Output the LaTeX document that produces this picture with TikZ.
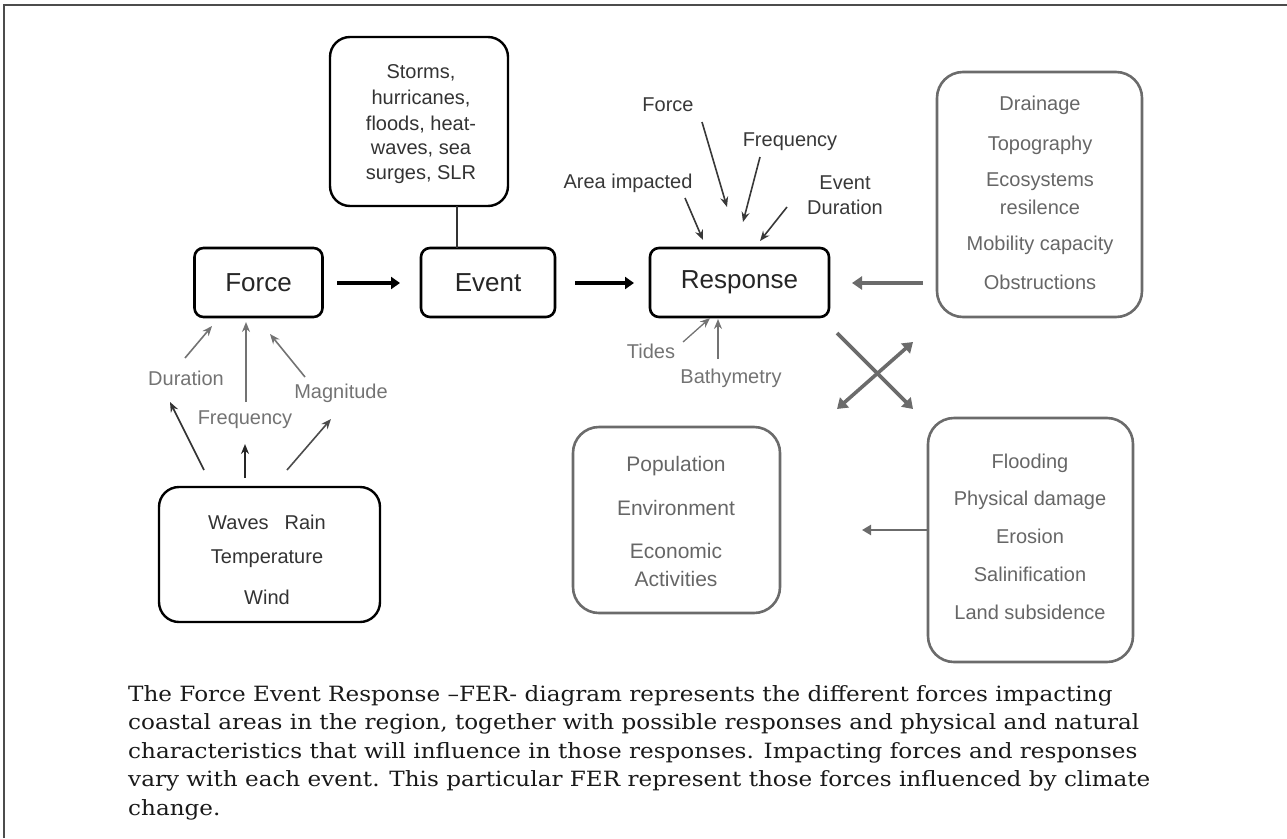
\documentclass[tikz,border=0pt]{standalone}
\usepackage{fontspec}
\setmainfont{Liberation Sans}
\newfontfamily\capfont[FakeStretch=1.1]{DejaVu Serif}
\usetikzlibrary{arrows.meta}
\definecolor{boxgrey}{gray}{0.42}
\definecolor{txtgrey}{gray}{0.40}
\definecolor{lblgrey}{gray}{0.45}
\definecolor{darklbl}{gray}{0.22}
\tikzset{
  mainbox/.style={draw=black, line width=2.6pt, rounded corners=9pt, inner sep=0pt, fill=white},
  bigbox/.style={draw=black, line width=2.4pt, rounded corners=20pt, inner sep=0pt},
  greybox/.style={draw=boxgrey, line width=2.6pt, rounded corners=26pt, inner sep=0pt},
  maintext/.style={font=\fontsize{26}{30}\selectfont, text=black!85},
  itemtxt/.style={font=\fontsize{20}{25}\selectfont, text=black!80, inner sep=0pt},
  greytxt/.style={font=\fontsize{20}{25}\selectfont, text=txtgrey, inner sep=0pt},
  lbl/.style={font=\fontsize{20}{25}\selectfont, text=darklbl, inner sep=0pt},
  glbl/.style={font=\fontsize{20}{25}\selectfont, text=lblgrey, inner sep=0pt},
  flow/.style={line width=4.5pt, -{Triangle[length=9pt,width=12pt]}},
  gflow/.style={line width=4pt, draw=boxgrey, -{Triangle[length=10pt,width=13pt]}},
  thin/.style={line width=1.6pt, -{Stealth[length=10pt,width=8pt]}},
  caption/.style={font=\capfont\fontsize{21}{28}\selectfont, text=black!90, anchor=base west, inner sep=0pt},
}
\begin{document}
\begin{tikzpicture}[x=1pt,y=-1pt]
\useasboundingbox (0,0) rectangle (1287,838);
% frame
\draw[line width=1.6pt, gray!60!black] (4,838) -- (4,5) -- (1287,5);

% main boxes
\node[mainbox, minimum width=128pt, minimum height=69pt] (force) at (258.5,282.5) {};
\node[maintext] (forcet) at (258.5,282.5) {Force};
\node[mainbox, minimum width=134pt, minimum height=69pt] (event) at (488,282.5) {};
\node[maintext] (eventt) at (488,282.5) {Event};
\node[mainbox, minimum width=179pt, minimum height=69pt] (resp) at (739.5,282.5) {};
\node[maintext] (respt) at (739.5,282.5) {Response};

% storms box
\node[bigbox, minimum width=178pt, minimum height=169pt] (storms) at (419,121.5) {};
\node[itemtxt] (s1) at (421,73) {Storms,};
\node[itemtxt] (s2) at (421,99) {hurricanes,};
\node[itemtxt] (s3) at (421,125) {floods, heat-};
\node[itemtxt] (s4) at (421,150) {waves, sea};
\node[itemtxt] (s5) at (421,175) {surges, SLR};
\coordinate (stb) at (457,206);
\coordinate (evt) at (457,248);
\draw[line width=2pt, black!80] (stb) -- (evt);

% waves box
\node[bigbox, minimum width=221pt, minimum height=135pt] (waves) at (269.5,554.5) {};
\node[itemtxt] (w1) at (267,522) {Waves\hspace{16pt}Rain};
\node[itemtxt] (w2) at (267,559) {Temperature};
\node[itemtxt] (w3) at (267,597) {Wind};

% force factor labels
\node[glbl] (dur) at (186,378) {Duration};
\node[glbl] (freq) at (245,420) {Frequency};
\node[glbl] (mag) at (341,393) {Magnitude};
\coordinate (d1) at (185,358); \coordinate (d2) at (212,326);
\coordinate (f1) at (246,402); \coordinate (f2) at (246,322);
\coordinate (m1) at (305,377); \coordinate (m2) at (270,334);
\draw[thin, draw=lblgrey] (d1) -- (d2);
\draw[thin, draw=lblgrey] (f1) -- (f2);
\draw[thin, draw=lblgrey] (m1) -- (m2);
\coordinate (wl1) at (204,470); \coordinate (wl2) at (170,402);
\coordinate (wm1) at (245,478); \coordinate (wm2) at (245,444);
\coordinate (wr1) at (287,470); \coordinate (wr2) at (331,419);
\draw[thin, draw=black!80] (wl1) -- (wl2);
\draw[thin, draw=black!85] (wm1) -- (wm2);
\draw[thin, draw=black!70] (wr1) -- (wr2);

% main flow arrows
\coordinate (fe1) at (337,283); \coordinate (fe2) at (400,283);
\coordinate (er1) at (575,283); \coordinate (er2) at (634,283);
\draw[flow] (fe1) -- (fe2);
\draw[flow] (er1) -- (er2);

% response factor labels
\node[lbl] (rforce) at (668,105) {Force};
\node[lbl] (rfreq) at (790,142) {Frequency};
\node[lbl] (rarea) at (628,183) {Area impacted};
\node[lbl, align=center, font=\fontsize{20}{25}\selectfont] (rdur) at (845,195) {Event\\Duration};
\coordinate (ra1) at (702,122); \coordinate (ra2) at (727,207);
\coordinate (rb1) at (760,157); \coordinate (rb2) at (743,222);
\coordinate (rc1) at (685,198); \coordinate (rc2) at (703,240);
\coordinate (rd1) at (787,207); \coordinate (rd2) at (760,241);
\draw[thin, draw=darklbl] (ra1) -- (ra2);
\draw[thin, draw=darklbl] (rb1) -- (rb2);
\draw[thin, draw=darklbl] (rc1) -- (rc2);
\draw[thin, draw=darklbl] (rd1) -- (rd2);

\node[glbl] (tides) at (651,351) {Tides};
\node[glbl] (bath) at (731,378) {Bathymetry};
\coordinate (t1) at (683,342); \coordinate (t2) at (710,318);
\coordinate (b1) at (718,359); \coordinate (b2) at (718,319);
\draw[thin, draw=lblgrey, line width=1.3pt] (t1) -- (t2);
\draw[thin, draw=lblgrey, line width=1.6pt] (b1) -- (b2);

% drainage box
\node[greybox, minimum width=205pt, minimum height=245pt] (drain) at (1039.5,194.5) {};
\node[greytxt] (g1) at (1040,105) {Drainage};
\node[greytxt] (g2) at (1040,145) {Topography};
\node[greytxt] (g3) at (1040,182) {Ecosystems};
\node[greytxt] (g4) at (1040,207) {resilence};
\node[greytxt] (g5) at (1040,245) {Mobility capacity};
\node[greytxt] (g6) at (1040,282) {Obstructions};
\coordinate (dr1) at (923,283); \coordinate (dr2) at (852,283);
\draw[gflow] (dr1) -- (dr2);

% cross
\coordinate (x1) at (837,333); \coordinate (x2) at (913,409);
\coordinate (x3) at (837,409); \coordinate (x4) at (913,342);
\draw[gflow, line width=3.6pt] (x1) -- (x2);
\draw[gflow, line width=3.6pt, {Triangle[length=10pt,width=13pt]}-{Triangle[length=10pt,width=13pt]}] (x3) -- (x4);

% population box
\node[greybox, minimum width=207pt, minimum height=186pt] (pop) at (676.5,520) {};
\node[greytxt, font=\fontsize{21}{26}\selectfont] (p1) at (676,466) {Population};
\node[greytxt, font=\fontsize{21}{26}\selectfont] (p2) at (676,508) {Environment};
\node[greytxt, font=\fontsize{21}{26}\selectfont] (p3) at (676,551) {Economic};
\node[greytxt, font=\fontsize{21}{26}\selectfont] (p4) at (676,579) {Activities};

% flooding box
\node[greybox, minimum width=205pt, minimum height=244pt] (flood) at (1030.5,540) {};
\node[greytxt] (q1) at (1030,463) {Flooding};
\node[greytxt] (q2) at (1030,500) {Physical damage};
\node[greytxt] (q3) at (1030,536) {Erosion};
\node[greytxt] (q4) at (1030,574) {Salinification};
\node[greytxt] (q5) at (1030,612) {Land subsidence};
\coordinate (fl1) at (928,530); \coordinate (fl2) at (862,530);
\draw[gflow, line width=2.6pt, -{Triangle[length=9pt,width=10pt]}] (fl1) -- (fl2);

% caption
\node[caption] (c1) at (128,701) {The Force Event Response –FER- diagram represents the different forces impacting};
\node[caption] (c2) at (128,729.5) {coastal areas in the region, together with possible responses and physical and natural};
\node[caption] (c3) at (128,758) {characteristics that will influence in those responses. Impacting forces and responses};
\node[caption] (c4) at (128,786.5) {vary with each event. This particular FER represent those forces influenced by climate};
\node[caption] (c5) at (128,815) {change.};
\end{tikzpicture}
\end{document}
